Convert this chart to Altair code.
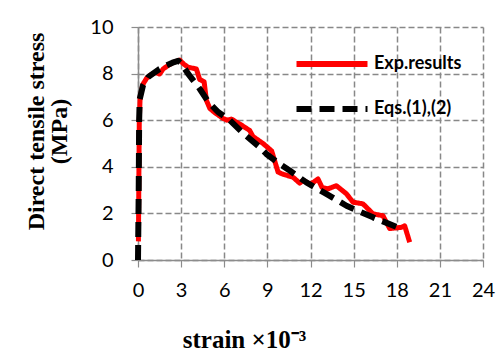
import altair as alt
import pandas as pd

# Experimental direct tension curve (strain in 10^-3, stress in MPa)
exp_strain = [0.03, 0.06, 0.09, 0.15, 0.35, 0.6, 0.9, 1.2, 1.5, 1.75, 2.1, 2.45, 2.9,
              3.2, 3.5, 4.06, 4.29, 4.6, 4.76, 5.0, 5.4, 5.91, 6.2, 6.49, 7.07, 7.77,
              8.0, 8.7, 9.3, 9.74, 10.0, 10.79, 11.25, 11.48, 11.94, 12.2, 12.52,
              12.8, 13.2, 13.8, 14.5, 14.96, 15.65, 16.35, 17.04, 17.51, 18.32,
              18.55, 18.9]
exp_stress = [0.8, 3.5, 6.0, 7.0, 7.55, 7.8, 7.95, 8.05, 7.98, 8.2, 8.35, 8.48, 8.58,
              8.4, 8.27, 8.2, 7.75, 7.65, 6.85, 6.5, 6.3, 6.08, 6.0, 6.05, 5.84, 5.56,
              5.3, 5.0, 4.68, 3.78, 3.7, 3.55, 3.3, 3.42, 3.27, 3.33, 3.48,
              3.12, 3.05, 3.19, 2.84, 2.48, 2.41, 1.98, 1.9, 1.35, 1.4,
              1.47, 0.76]

# Model curve from Eqs. (1) and (2)
eq_strain = [0.0, 0.05, 0.08, 0.12, 0.35, 0.7, 1.04, 1.5, 1.97, 2.4, 2.8, 3.0, 3.48,
             4.29, 4.87, 5.57, 6.38, 7.3, 8.47, 8.93, 9.86, 10.55, 11.71, 13.1,
             14.5, 16.35, 17.97, 18.5]
eq_stress = [0.0, 3.0, 6.0, 6.9, 7.5, 7.85, 8.0, 8.2, 8.35, 8.47, 8.55, 8.45, 8.0,
             7.35, 6.8, 6.35, 6.0, 5.45, 4.84, 4.55, 4.12, 3.84, 3.33, 2.84,
             2.33, 1.83, 1.42, 1.38]

series_names = ["Exp.results", "Eqs.(1),(2)"]
series_colors = ["#ff0000", "#000000"]

x_ticks = [0, 3, 6, 9, 12, 15, 18, 21, 24]
y_ticks = [0, 2, 4, 6, 8, 10]

exp_df = pd.DataFrame({"strain": exp_strain, "stress": exp_stress,
                       "series": series_names[0]})
eq_df = pd.DataFrame({"strain": eq_strain, "stress": eq_stress,
                      "series": series_names[1]})

x_scale = alt.Scale(domain=[0, 24], nice=False)
y_scale = alt.Scale(domain=[0, 10], nice=False)

x_enc = alt.X("strain:Q", scale=x_scale,
              axis=alt.Axis(values=x_ticks, title="strain ×10⁻³", labelFlush=False,
                            labelPadding=13,
                            titleX=106, titleY=87, titleBaseline="alphabetic",
                            titleAlign="center", titleFontSize=25))
y_enc = alt.Y("stress:Q", scale=y_scale,
              axis=alt.Axis(values=y_ticks, labelPadding=18,
                            title=["Direct tensile stress", "(MPa)"],
                            titleX=-95, titleY=104, titleAngle=-90,
                            titleBaseline="alphabetic", titleAlign="center",
                            titleLineHeight=23))

# wide line-shaped legend symbol (custom path, scaled by sqrt(symbolSize)/2)
legend_spec = dict(title=None, orient="none", legendX=169, legendY=12,
                   symbolType="M-3,0H3", symbolSize=560, labelOffset=27,
                   rowPadding=18, padding=10)
color_enc = alt.Color("series:N",
                      scale=alt.Scale(domain=series_names, range=series_colors),
                      legend=alt.Legend(**legend_spec))
dash_enc = alt.StrokeDash("series:N",
                          scale=alt.Scale(domain=series_names,
                                          range=[[1, 0], [15, 8]]),
                          legend=alt.Legend(**legend_spec))

exp_line = alt.Chart(exp_df).mark_line(strokeWidth=5, strokeJoin="round").encode(
    x=x_enc, y=y_enc, color=color_enc, strokeDash=dash_enc, order="strain:Q")
eq_line = alt.Chart(eq_df).mark_line(strokeWidth=6, strokeJoin="round").encode(
    x=x_enc, y=y_enc, color=color_enc, strokeDash=dash_enc, order="strain:Q")

chart = alt.layer(exp_line, eq_line).properties(
    width=345, height=233,
    autosize=alt.AutoSizeParams(type="none"),
    padding={"left": 138, "top": 27, "right": 20, "bottom": 96},
).configure_view(stroke=None).configure_axis(
    grid=True, gridColor="#888888", gridDash=[6, 3], gridWidth=1.5,
    domain=True, domainColor="#8c8c8c", domainWidth=1.5,
    tickColor="#8c8c8c", tickSize=7, tickWidth=1.2,
    labelFont="Lato", labelFontSize=20, labelColor="#000000",
    titleFont="Liberation Serif", titleFontWeight="bold", titleFontSize=24,
    titleColor="#000000",
).configure_legend(
    symbolStrokeWidth=6, labelFont="Lato",
    labelFontWeight="bold", labelFontSize=18, labelColor="#000000",
)

chart.save("out.html", embed_options={"renderer": "svg", "actions": False})
